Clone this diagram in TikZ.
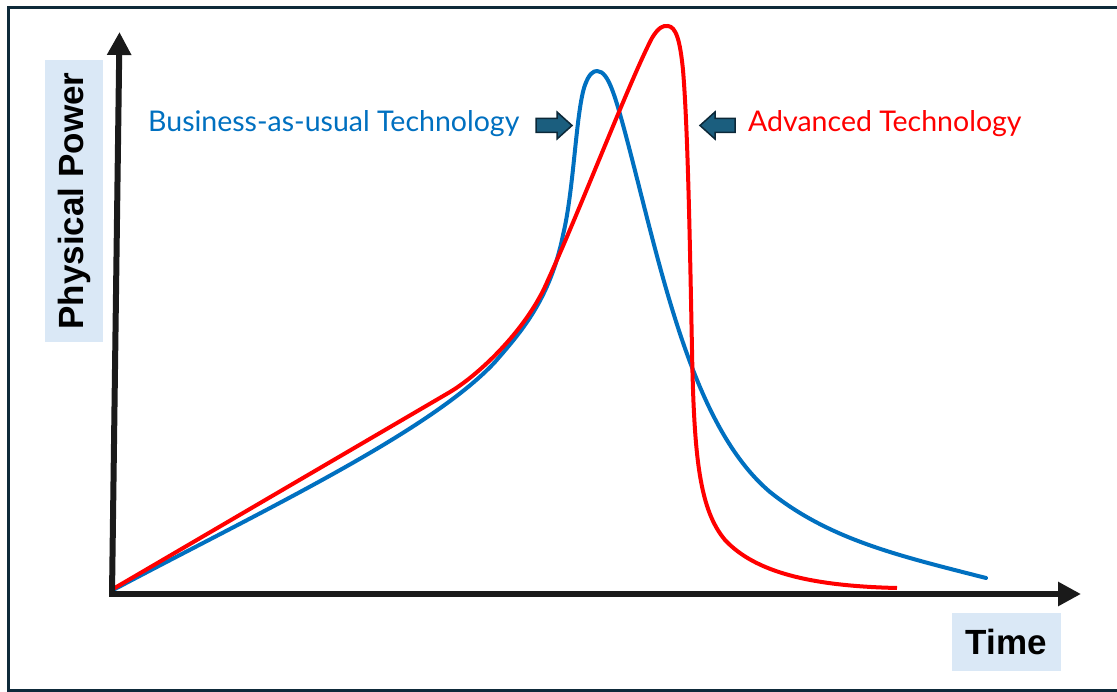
\documentclass[tikz,border=0pt]{standalone}
\usepackage{fontspec}
\setmainfont{Liberation Sans}
\newfontfamily\curvefont{Lato}
\usetikzlibrary{arrows.meta}
\definecolor{baublue}{RGB}{0,112,192}
\definecolor{advred}{RGB}{255,0,0}
\definecolor{axisblack}{RGB}{26,26,26}
\definecolor{framenavy}{RGB}{14,42,58}
\definecolor{boxfill}{RGB}{218,232,246}
\definecolor{barrowfill}{RGB}{27,94,126}
\definecolor{barrowline}{RGB}{12,40,56}
\tikzset{
  frameline/.style={draw=framenavy, line width=3pt},
  axisline/.style={draw=axisblack, line width=6pt, -{Triangle[length=23pt,width=23pt]}},
  axislabel/.style={fill=boxfill, inner sep=0pt, font=\fontsize{35}{40}\selectfont\bfseries, text=black},
  curvelabel/.style={inner sep=0pt, font=\curvefont\fontsize{28.5}{32}\selectfont},
  baucurve/.style={draw=baublue, line width=4pt, line join=round, line cap=round},
  advcurve/.style={draw=advred, line width=4pt, line join=round, line cap=butt},
  blockarrow/.style={fill=barrowfill, draw=barrowline, line width=1.5pt, line join=miter}
}
\begin{document}
\begin{tikzpicture}[x=1pt,y=-1pt]
\fill[white] (0,0) rectangle (1117,692);
\useasboundingbox (0,0) rectangle (1117,692);
\begin{scope}
\clip (0,0) rectangle (1117,692);
\draw[frameline] (1125,7.5) -- (8.5,7.5) -- (8.5,690.5) -- (1125,690.5);
\end{scope}

\coordinate (origin) at (112,594);
\coordinate (ytip) at (119.5,32);
\coordinate (xtip) at (1081,594);
\coordinate (xstart) at (109,594);

% curves
\draw[baucurve] (113,590) .. controls (260,512) and (430,432) .. (495,362)
  .. controls (520,333) and (550,300) .. (563,235)
  .. controls (574,190) and (576,110) .. (585,85)
  .. controls (589,74) and (593,71) .. (597,71)
  .. controls (603,71) and (608,78) .. (613,92)
  .. controls (625,125) and (645,215) .. (665,285)
  .. controls (688,365) and (718,448) .. (770,492)
  .. controls (830,540) and (900,556) .. (986,578);
\draw[advcurve] (113,589) -- (450,392)
  .. controls (480,374) and (528,328) .. (548,280)
  .. controls (580,210) and (630,80) .. (652,38)
  .. controls (658,28) and (663,25) .. (668,26)
  .. controls (676,27) and (680,40) .. (683,70)
  .. controls (688,130) and (690,250) .. (692,350)
  .. controls (694,460) and (700,510) .. (725,540)
  .. controls (755,572) and (810,586) .. (897,588);

% axes
\draw[axisline] (origin) -- (ytip);
\draw[axisline] (xstart) -- (xtip);

% axis labels
\node[axislabel, rotate=90, minimum width=282pt, minimum height=58pt] (ylab) at (74,201) {Physical Power};
\node[axislabel, minimum width=109pt, minimum height=58pt] (xlab) at (1006.5,642) {Time};

% curve labels
\node[curvelabel, text=baublue, anchor=west] (baulab) at (148,124) {Business-as-usual Technology};
\node[curvelabel, text=advred, anchor=west] (advlab) at (748,124) {Advanced Technology};

% block arrows
\draw[blockarrow] (536,118.5) -- (557,118.5) -- (557,112) -- (572,125.5) -- (557,139) -- (557,132.5) -- (536,132.5) -- cycle;
\draw[blockarrow] (735,118.5) -- (715,118.5) -- (715,112) -- (700,125.5) -- (715,139) -- (715,132.5) -- (735,132.5) -- cycle;
\end{tikzpicture}
\end{document}
